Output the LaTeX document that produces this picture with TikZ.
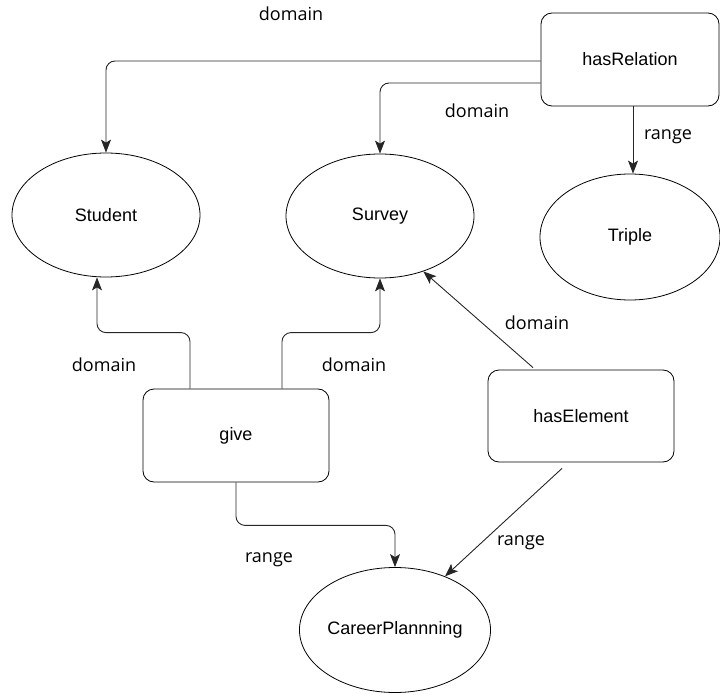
\documentclass[tikz,border=0pt]{standalone}
\usepackage{fontspec}
\setmainfont{Liberation Sans}
\newfontfamily\lblfont{Open Sans}
\usetikzlibrary{shapes.geometric}
\usetikzlibrary{arrows.meta}
\usetikzlibrary{calc,positioning}

\begin{document}
\begin{tikzpicture}[x=1pt, y=-1pt,
    classnode/.style={draw, ellipse, line width=0.8pt, inner sep=0pt,
        minimum width=188pt, minimum height=124pt, font=\fontsize{18}{21}\selectfont},
    propnode/.style={draw, rectangle, rounded corners=11pt, line width=0.8pt, inner sep=0pt,
        minimum width=186pt, minimum height=93pt, font=\fontsize{18}{21}\selectfont},
    lbl/.style={font=\lblfont\fontsize{18}{21}\selectfont},
    link/.style={draw=black!85, line width=0.9pt, rounded corners=9pt,
        -{Stealth[length=13pt, width=10pt, inset=3pt]}}]
    \useasboundingbox (0,0) rectangle (720,695);

    % properties
    \node[propnode, minimum width=178pt] (hasRelation) at (630,59.5) {hasRelation};
    \node[propnode] (give) at (236,435.5) {give};
    \node[propnode, minimum height=92pt] (hasElement) at (581,416) {hasElement};

    % classes
    \node[classnode] (Student) at (106,215) {Student};
    \node[classnode] (Survey) at (380,216) {Survey};
    \node[classnode, minimum width=180pt, minimum height=126pt] (Triple) at (630,237) {Triple};
    \node[classnode, minimum width=186pt, minimum height=125pt] (CareerPlannning) at (395,630) {CareerPlannning};

    % hasRelation
    \draw[link] ([yshift=-1.5pt]hasRelation.west) -| (Student.north);
    \draw[link] ([yshift=-23.5pt]hasRelation.west) -| (Survey.north);
    \draw[link] ([xshift=3pt]hasRelation.south) -- ([xshift=3pt]Triple.north);

    % give
    \draw[link] ([xshift=-46pt]give.north) -- ++(0,-56) -| ([xshift=-9pt]Student.south);
    \draw[link] ([xshift=46pt]give.north) -- ++(0,-56) -| (Survey.south);
    \draw[link] (give.south) -- ++(0,43) -| (CareerPlannning.north);

    % hasElement
    \draw[link] ([xshift=-48pt, yshift=2pt]hasElement.north) -- (Survey.-52);
    \draw[link] ([xshift=-19pt, yshift=-6pt]hasElement.south) -- (CareerPlannning.47);

    % labels
    \node[lbl] (lblA) at (291,14) {domain};
    \node[lbl] (lblB) at (477,111) {domain};
    \node[lbl] (lblC) at (668,137) {range};
    \node[lbl] (lblD) at (537,323) {domain};
    \node[lbl] (lblE) at (104,365) {domain};
    \node[lbl] (lblF) at (354,365) {domain};
    \node[lbl] (lblG) at (269,560) {range};
    \node[lbl] (lblH) at (521,543) {range};
\end{tikzpicture}
\end{document}
